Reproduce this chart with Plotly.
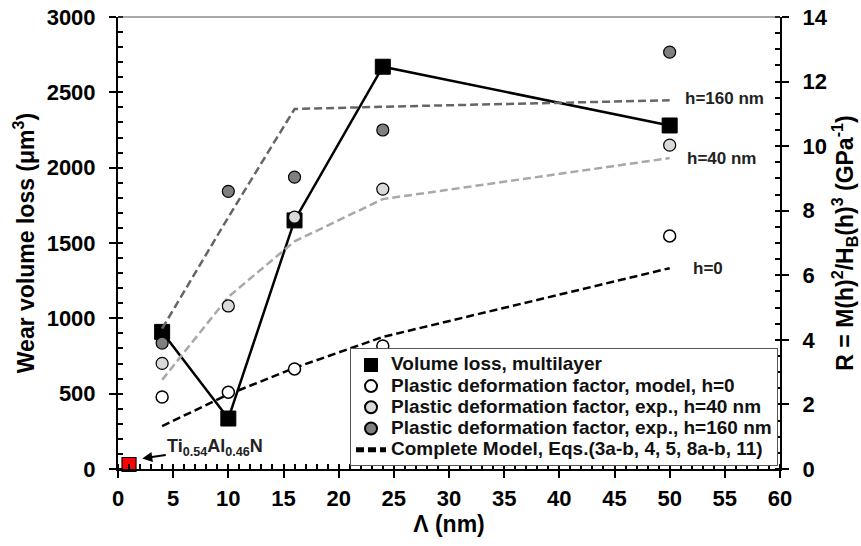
import plotly.graph_objects as go

# ---------------- data ----------------
lam = [4, 10, 16, 24, 50]
volume_loss = [910, 335, 1650, 2670, 2280]          # left axis, µm^3
tialn_x = [1]
tialn_y = [30]

R_model_h0 = [2.23, 2.38, 3.10, 3.81, 7.22]          # right axis
R_exp_h40 = [3.27, 5.05, 7.80, 8.67, 10.03]
R_exp_h160 = [3.90, 8.60, 9.04, 10.50, 12.91]

line_h0 = [1.33, 2.31, 3.13, 4.09, 6.22]
line_h40 = [2.76, 5.33, 7.05, 8.36, 9.63]
line_h160 = [4.35, 7.80, 11.15, 11.22, 11.42]

legend_names = [
    "Volume loss, multilayer",
    "Plastic deformation factor, model, h=0",
    "Plastic deformation factor, exp., h=40 nm",
    "Plastic deformation factor, exp., h=160 nm",
    "Complete Model, Eqs.(3a-b, 4, 5, 8a-b, 11)",
]

FONT = "Liberation Sans, Arial, sans-serif"
DASH = "8px,4px"


def lg(name):
    return '<span style="font-size:19px">' + name + "</span>"


fig = go.Figure()

# model lines (right axis)
fig.add_trace(go.Scatter(x=lam, y=line_h160, yaxis="y2", mode="lines",
                         line=dict(color="#656565", width=2.5, dash=DASH),
                         showlegend=False, hoverinfo="skip"))
fig.add_trace(go.Scatter(x=lam, y=line_h40, yaxis="y2", mode="lines",
                         line=dict(color="#a8a8a8", width=2.5, dash=DASH),
                         showlegend=False, hoverinfo="skip"))
fig.add_trace(go.Scatter(x=lam, y=line_h0, yaxis="y2", mode="lines",
                         name=lg(legend_names[4]), legendrank=5,
                         line=dict(color="black", width=2.5, dash=DASH),
                         hoverinfo="skip"))

# volume loss line
fig.add_trace(go.Scatter(x=lam, y=volume_loss, mode="lines", showlegend=False,
                         line=dict(color="black", width=2.5), hoverinfo="skip"))

# markers (legend entries)
fig.add_trace(go.Scatter(x=lam, y=volume_loss, mode="markers",
                         name=lg(legend_names[0]), legendrank=1,
                         marker=dict(symbol="square", size=15, color="black",
                                     line=dict(color="black", width=1))))
fig.add_trace(go.Scatter(x=lam, y=R_model_h0, yaxis="y2", mode="markers",
                         name=lg(legend_names[1]), legendrank=2,
                         marker=dict(symbol="circle", size=12, color="white",
                                     line=dict(color="black", width=1.5))))
fig.add_trace(go.Scatter(x=lam, y=R_exp_h40, yaxis="y2", mode="markers",
                         name=lg(legend_names[2]), legendrank=3,
                         marker=dict(symbol="circle", size=12, color="#d9d9d9",
                                     line=dict(color="black", width=1.2))))
fig.add_trace(go.Scatter(x=lam, y=R_exp_h160, yaxis="y2", mode="markers",
                         name=lg(legend_names[3]), legendrank=4,
                         marker=dict(symbol="circle", size=12, color="#7f7f7f",
                                     line=dict(color="black", width=1.2))))

# TiAlN reference point
fig.add_trace(go.Scatter(x=tialn_x, y=tialn_y, mode="markers", showlegend=False,
                         cliponaxis=False,
                         marker=dict(symbol="square", size=14, color="red",
                                     line=dict(color="black", width=1.2))))

tickfont = dict(family=FONT, size=22, color="black", weight="bold")
titlefont = dict(family=FONT, size=23, color="black", weight="bold")

fig.update_layout(
    width=861, height=546,
    margin=dict(l=118, r=81, t=17, b=77, autoexpand=False),
    paper_bgcolor="white", plot_bgcolor="white",
    font=dict(family=FONT, color="black"),
    xaxis=dict(range=[0, 60], dtick=5, tick0=0, automargin=False,
               showgrid=False, zeroline=False,
               showline=True, linecolor="black", linewidth=2,
               ticks="outside", ticklen=7, tickwidth=2, tickcolor="black",
               minor=dict(dtick=1, ticks="inside", ticklen=5, tickwidth=1.5, tickcolor="black"),
               tickfont=tickfont, ticklabelstandoff=2,
               title=dict(text="Λ (nm)", font=titlefont, standoff=4)),
    yaxis=dict(range=[0, 3000], dtick=500, tick0=0, automargin=False,
               showgrid=False, zeroline=False,
               showline=True, linecolor="black", linewidth=2,
               ticks="outside", ticklen=7, tickwidth=2, tickcolor="black",
               minor=dict(dtick=100, ticks="inside", ticklen=5, tickwidth=1.5, tickcolor="black"),
               tickfont=tickfont, ticklabelstandoff=9,
               title=dict(text="Wear volume loss (μm<sup>3</sup>)", font=titlefont, standoff=6)),
    yaxis2=dict(range=[0, 14], dtick=2, tick0=0, overlaying="y", side="right",
                automargin=False,
                showgrid=False, zeroline=False,
                showline=True, linecolor="black", linewidth=2,
                ticks="outside", ticklen=7, tickwidth=2, tickcolor="black",
                minor=dict(dtick=0.5, ticks="inside", ticklen=5, tickwidth=1.5, tickcolor="black"),
                tickfont=tickfont, ticklabelstandoff=9,
                title=dict(text="R = M(h)<sup>2</sup>/H<sub>B</sub>(h)<sup>3</sup> (GPa<sup>-1</sup>)",
                           font=titlefont, standoff=10)),
    legend=dict(x=0.997, y=0.006, xanchor="right", yanchor="bottom",
                bgcolor="white", bordercolor="#555555", borderwidth=1,
                font=dict(family=FONT, size=14, color="#111111", weight="bold"),
                tracegroupgap=0, itemwidth=30, itemsizing="constant",
                traceorder="normal"),
    showlegend=True,
)

# thin top frame line
fig.add_shape(type="line", xref="paper", yref="paper", x0=0, x1=1, y0=1, y1=1,
              line=dict(color="#555555", width=1.2))

ann_font = dict(family=FONT, size=17, color="#222222", weight="bold")
fig.add_annotation(x=51.2, y=11.49, yref="y2", text="h=160 nm", showarrow=False,
                   xanchor="left", font=ann_font)
fig.add_annotation(x=51.4, y=9.63, yref="y2", text="h=40 nm", showarrow=False,
                   xanchor="left", font=ann_font)
fig.add_annotation(x=51.9, y=6.22, yref="y2", text="h=0", showarrow=False,
                   xanchor="left", font=ann_font)
fig.add_annotation(x=2.2, y=70, text="Ti<sub>0.54</sub>Al<sub>0.46</sub>N",
                   showarrow=True, arrowhead=2, arrowsize=1, arrowwidth=2,
                   arrowcolor="black", ax=73, ay=-11,
                   font=dict(family=FONT, size=18, color="#222222", weight="bold"))

fig.write_html("out.html")
